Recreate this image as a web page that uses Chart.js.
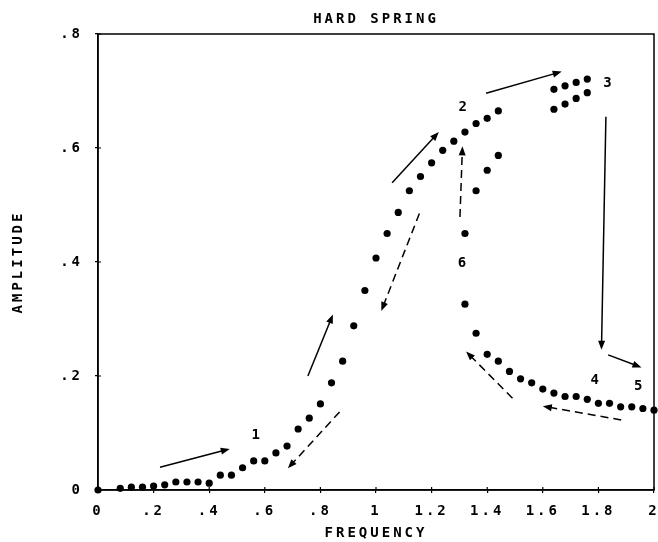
<!DOCTYPE html>
<html>
<head>
<meta charset="utf-8">
<script src="https://cdn.jsdelivr.net/npm/chart.js@4.4.0/dist/chart.umd.min.js"></script>
<style>
html, body { margin: 0; padding: 0; background: #fff; }
#wrap { width: 658px; height: 542px; }
</style>
</head>
<body>
<div id="wrap"><canvas id="chart"></canvas></div>
<script>
// Rising branch (sweep up in frequency)
const freqRise = [0, 0.08, 0.12, 0.16, 0.20, 0.24, 0.28, 0.32, 0.36, 0.40, 0.44, 0.48, 0.52, 0.56, 0.60, 0.64, 0.68, 0.72, 0.76, 0.80,
                  0.84, 0.88, 0.92, 0.96, 1.00, 1.04, 1.08, 1.12, 1.16, 1.20, 1.24, 1.28, 1.32, 1.36, 1.40, 1.44];
const ampRise = [0, 0.003, 0.005, 0.005, 0.007, 0.009, 0.014, 0.014, 0.014, 0.012, 0.026, 0.026, 0.039, 0.051, 0.051, 0.065, 0.077, 0.107, 0.126, 0.151,
                 0.188, 0.226, 0.288, 0.350, 0.407, 0.450, 0.487, 0.525, 0.550, 0.574, 0.596, 0.612, 0.628, 0.643, 0.652, 0.665];
// Top cluster near point 3
const freqJump = [1.64, 1.68, 1.72, 1.76];
const ampJumpHigh = [0.703, 0.709, 0.715, 0.721];
const ampJumpLow = [0.668, 0.677, 0.687, 0.697];
// Middle (unstable) branch
const freqMid = [1.32, 1.36, 1.40, 1.44];
const ampMid = [0.450, 0.525, 0.561, 0.587];
// Lower branch after the jump down
const freqFall = [1.32, 1.36, 1.40, 1.44, 1.48, 1.52, 1.56, 1.60, 1.64, 1.68, 1.72, 1.76, 1.80, 1.84, 1.88, 1.92, 1.96, 2.00];
const ampFall = [0.326, 0.275, 0.238, 0.226, 0.208, 0.195, 0.188, 0.177, 0.170, 0.164, 0.164, 0.159, 0.152, 0.152, 0.146, 0.146, 0.143, 0.140];

// Tick values
const freqTicks = [0, 0.2, 0.4, 0.6, 0.8, 1.0, 1.2, 1.4, 1.6, 1.8, 2.0];
const ampTicks = [0, 0.2, 0.4, 0.6, 0.8];

// Annotations (data units): x1, y1, x2, y2
const arrowsSolid = [
    [0.223, 0.040, 0.474, 0.072],
    [0.755, 0.200, 0.845, 0.308],
    [1.058, 0.539, 1.226, 0.628],
    [1.396, 0.696, 1.668, 0.734],
    [1.827, 0.655, 1.811, 0.246],
    [1.835, 0.237, 1.955, 0.215]
];
const arrowsDashed = [
    [0.869, 0.137, 0.683, 0.038],
    [1.156, 0.485, 1.019, 0.314],
    [1.302, 0.479, 1.311, 0.603],
    [1.491, 0.161, 1.324, 0.243],
    [1.882, 0.123, 1.600, 0.147]
];
const stageLabels = ['1', '2', '3', '4', '5', '6'];
const stageX = [0.567, 1.312, 1.833, 1.787, 1.943, 1.309];
const stageY = [0.096, 0.671, 0.713, 0.193, 0.182, 0.398];

const FONT = "'DejaVu Sans Mono', monospace";

function toPoints(xs, ys) {
    return xs.map((x, i) => ({ x: x, y: ys[i] }));
}

function fmtTick(v) {
    if (Math.abs(v) < 1e-9) return '0';
    let s = (Math.round(v * 10) / 10).toString();
    if (s.startsWith('0.')) s = s.substring(1);
    return s;
}

function drawArrow(ctx, x1, y1, x2, y2, dashed) {
    const ang = Math.atan2(y2 - y1, x2 - x1);
    const headLen = 9, headW = 3.5;
    ctx.save();
    ctx.strokeStyle = '#000';
    ctx.fillStyle = '#000';
    ctx.lineWidth = 1.5;
    ctx.setLineDash(dashed ? [8, 5] : []);
    ctx.beginPath();
    ctx.moveTo(x1, y1);
    ctx.lineTo(x2 - Math.cos(ang) * headLen * 0.6, y2 - Math.sin(ang) * headLen * 0.6);
    ctx.stroke();
    ctx.setLineDash([]);
    ctx.beginPath();
    ctx.moveTo(x2, y2);
    ctx.lineTo(x2 - headLen * Math.cos(ang) + headW * Math.sin(ang), y2 - headLen * Math.sin(ang) - headW * Math.cos(ang));
    ctx.lineTo(x2 - headLen * Math.cos(ang) - headW * Math.sin(ang), y2 - headLen * Math.sin(ang) + headW * Math.cos(ang));
    ctx.closePath();
    ctx.fill();
    ctx.restore();
}

// plotter-style wide lettering
const spacingPlugin = {
    id: 'spacing',
    beforeLayout(chart) { chart.ctx.letterSpacing = '3px'; },
    beforeDraw(chart) { chart.ctx.letterSpacing = '3px'; }
};

const annotPlugin = {
    id: 'annot',
    afterDatasetsDraw(chart) {
        const ctx = chart.ctx;
        const xs = chart.scales.x, ys = chart.scales.y;
        const a = chart.chartArea;

        // frame
        ctx.save();
        ctx.strokeStyle = '#000';
        ctx.lineWidth = 1.5;
        ctx.strokeRect(a.left, a.top, a.right - a.left, a.bottom - a.top);
        // inner tick marks
        ctx.lineWidth = 1.2;
        ctx.beginPath();
        freqTicks.forEach(v => {
            const px = xs.getPixelForValue(v);
            ctx.moveTo(px, a.bottom); ctx.lineTo(px, a.bottom - 3);
        });
        ampTicks.forEach(v => {
            const py = ys.getPixelForValue(v);
            ctx.moveTo(a.left, py); ctx.lineTo(a.left + 3, py);
        });
        ctx.stroke();
        ctx.restore();

        arrowsSolid.forEach(r => drawArrow(ctx, xs.getPixelForValue(r[0]), ys.getPixelForValue(r[1]),
            xs.getPixelForValue(r[2]), ys.getPixelForValue(r[3]), false));
        arrowsDashed.forEach(r => drawArrow(ctx, xs.getPixelForValue(r[0]), ys.getPixelForValue(r[1]),
            xs.getPixelForValue(r[2]), ys.getPixelForValue(r[3]), true));

        ctx.save();
        ctx.letterSpacing = '0px';
        ctx.fillStyle = '#000';
        ctx.font = 'bold 14px ' + FONT;
        ctx.textAlign = 'center';
        ctx.textBaseline = 'middle';
        stageLabels.forEach((t, i) => {
            ctx.fillText(t, xs.getPixelForValue(stageX[i]), ys.getPixelForValue(stageY[i]));
        });
        ctx.restore();
    }
};

const dotStyle = {
    backgroundColor: '#000',
    borderColor: '#000',
    pointRadius: 3.6,
    pointBorderWidth: 0,
    showLine: false,
    clip: false
};

const tickFont = { family: FONT, size: 14, weight: 'bold' };
const titleFont = { family: FONT, size: 14, weight: 'bold' };

new Chart(document.getElementById('chart').getContext('2d'), {
    type: 'scatter',
    data: {
        datasets: [
            Object.assign({ label: 'rise', data: toPoints(freqRise, ampRise) }, dotStyle),
            Object.assign({ label: 'jump high', data: toPoints(freqJump, ampJumpHigh) }, dotStyle),
            Object.assign({ label: 'jump low', data: toPoints(freqJump, ampJumpLow) }, dotStyle),
            Object.assign({ label: 'mid', data: toPoints(freqMid, ampMid) }, dotStyle),
            Object.assign({ label: 'fall', data: toPoints(freqFall, ampFall) }, dotStyle)
        ]
    },
    options: {
        responsive: true,
        maintainAspectRatio: false,
        animation: false,
        layout: { padding: { left: 0, right: 3, top: 0, bottom: 0 } },
        plugins: {
            legend: { display: false },
            tooltip: { enabled: false }
        },
        scales: {
            // top axis only carries the chart title, centred over the plot area
            xTop: {
                type: 'linear',
                position: 'top',
                min: 0,
                max: 2,
                afterFit: s => { s.height = 34; s.paddingLeft = 0; s.paddingRight = 0; },
                ticks: { display: false },
                grid: { display: false },
                border: { display: false },
                title: {
                    display: true,
                    text: 'HARD SPRING',
                    color: '#000',
                    font: titleFont,
                    padding: { top: 11, bottom: 0 }
                }
            },
            x: {
                type: 'linear',
                position: 'bottom',
                min: 0,
                max: 2,
                afterBuildTicks: s => { s.ticks = freqTicks.map(v => ({ value: v })); },
                afterFit: s => { s.height = 52; s.paddingLeft = 0; s.paddingRight = 0; },
                ticks: {
                    color: '#000',
                    font: tickFont,
                    padding: 10,
                    maxRotation: 0,
                    callback: v => fmtTick(v)
                },
                grid: { display: true, drawOnChartArea: false, drawTicks: true, tickLength: 3, color: '#000', lineWidth: 1.2 },
                border: { display: true, color: '#000', width: 1.5 },
                title: {
                    display: true,
                    text: 'FREQUENCY',
                    color: '#000',
                    font: titleFont,
                    padding: { top: 0, bottom: 0 }
                }
            },
            y: {
                type: 'linear',
                min: 0,
                max: 0.8,
                afterBuildTicks: s => { s.ticks = ampTicks.map(v => ({ value: v })); },
                afterFit: s => { s.width = 98; },
                ticks: {
                    color: '#000',
                    font: tickFont,
                    padding: 12,
                    callback: v => fmtTick(v)
                },
                grid: { display: true, drawOnChartArea: false, drawTicks: true, tickLength: 3, color: '#000', lineWidth: 1.2 },
                border: { display: true, color: '#000', width: 1.5 },
                title: {
                    display: true,
                    text: 'AMPLITUDE',
                    color: '#000',
                    font: titleFont,
                    padding: { top: 10, bottom: 0 }
                }
            }
        }
    },
    plugins: [spacingPlugin, annotPlugin]
});
</script>
</body>
</html>
